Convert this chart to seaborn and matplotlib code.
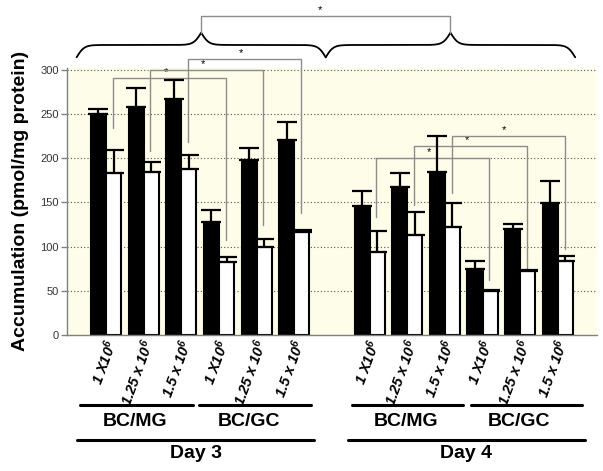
import numpy as np
import pandas as pd
import matplotlib
matplotlib.use("Agg")
import matplotlib.pyplot as plt
from matplotlib.transforms import ScaledTranslation
import seaborn as sns

# ── Data ───────────────────────────────────────────────────────────────────────
dose_labels = ["1 X10$^6$", "1.25 x 10$^6$", "1.5 x 10$^6$"]
co_cultures = ["BC/MG", "BC/GC", "BC/MG", "BC/GC"]
days = ["Day 3", "Day 4"]

day3_black = [250, 258, 268, 128, 198, 221]
day3_black_err = [6, 22, 21, 14, 14, 20]
day3_white = [184, 185, 188, 82, 99, 116]
day3_white_err = [26, 11, 16, 6, 10, 3]

day4_black = [146, 168, 185, 74, 120, 149]
day4_black_err = [17, 16, 40, 9, 6, 25]
day4_white = [94, 113, 122, 50, 72, 84]
day4_white_err = [24, 26, 27, 1, 1, 5]

# significance brackets between white bars (bar index -> bar index)
sig_pairs = [(0, 3), (1, 4), (2, 5), (6, 9), (7, 10), (8, 11)]

# ── Layout (not data) ──────────────────────────────────────────────────────────
positions = np.array([0, 1, 2, 3, 4, 5, 7, 8, 9, 10, 11, 12])
sig_tops = [291, 301, 313, 201, 214, 226]
sig_left_ends = [235, 208, 219, 134, 147, 161]
sig_right_ends = [107, 124, 138, 62, 73, 97]
group_spans = [(-0.68, 2.30), (2.48, 5.44), (6.53, 9.48), (9.69, 12.64)]
group_text_x = [0.78, 3.80, 7.97, 10.97]
day_spans = [(-0.76, 5.52), (6.43, 12.71)]
brace_spans = [(-0.78, 5.835), (5.835, 12.46)]

sns.set_style("white")
plt.rcParams["font.family"] = ["Liberation Sans", "DejaVu Sans"]
plt.rcParams["text.color"] = "black"
plt.rcParams["axes.labelcolor"] = "black"
plt.rcParams["mathtext.fontset"] = "custom"
plt.rcParams["mathtext.rm"] = "Liberation Sans:italic:bold"
plt.rcParams["mathtext.it"] = "Liberation Sans:italic:bold"
plt.rcParams["mathtext.bf"] = "Liberation Sans:italic:bold"

black_vals = day3_black + day4_black
white_vals = day3_white + day4_white
black_err = day3_black_err + day4_black_err
white_err = day3_white_err + day4_white_err

df = pd.DataFrame({
    "pos": np.concatenate([positions, positions]),
    "value": black_vals + white_vals,
    "cond": ["black"] * 12 + ["white"] * 12,
})

fig = plt.figure(figsize=(6.03, 4.71), dpi=100)
ax = fig.add_axes([0.1111, 0.2898, 0.879, 0.5652])
ax.set_facecolor("#fefdea")

sns.barplot(data=df, x="pos", y="value", hue="cond", native_scale=True,
            palette={"black": "black", "white": "white"}, edgecolor="black",
            linewidth=1.5, errorbar=None, width=0.8, saturation=1,
            legend=False, ax=ax)

# upper-only error bars
zeros = np.zeros(12)
ax.errorbar(positions - 0.2, black_vals, yerr=[zeros, black_err], fmt="none",
            ecolor="black", elinewidth=1.6, capsize=7, capthick=1.6, zorder=4)
ax.errorbar(positions + 0.2, white_vals, yerr=[zeros, white_err], fmt="none",
            ecolor="black", elinewidth=1.6, capsize=7, capthick=1.6, zorder=4)

ax.set_xlim(-1.036, 13.04)
ax.set_ylim(0, 302.5)
ax.set_yticks(range(0, 301, 50))
ax.yaxis.grid(True, linestyle=(0, (1, 2)), color="#555555", linewidth=0.8)
ax.xaxis.grid(False)
ax.set_axisbelow(True)
for side in ["top", "right"]:
    ax.spines[side].set_visible(False)
for side in ["left", "bottom"]:
    ax.spines[side].set_color("#808080")
    ax.spines[side].set_linewidth(1.0)
ax.tick_params(axis="y", length=4, width=1, color="#808080", labelsize=8,
               labelcolor="#333333", pad=2, left=True)

ax.set_xticks(positions)
ax.set_xticklabels(dose_labels * 4, rotation=70, ha="right", va="center",
                   rotation_mode="anchor", fontsize=10.5, fontweight="bold",
                   fontstyle="italic", color="black")
ax.tick_params(axis="x", length=0, pad=4)
shift = ScaledTranslation(4 / 72, 0, fig.dpi_scale_trans)
for lbl in ax.get_xticklabels():
    lbl.set_transform(lbl.get_transform() + shift)

ax.set_xlabel("")
ax.set_ylabel("Accumulation (pmol/mg protein)", fontsize=14,
              fontweight="bold")
ax.yaxis.set_label_coords(-0.072, 0.5)

# significance brackets
white_x = positions + 0.18
for (i, j), top, le, re in zip(sig_pairs, sig_tops, sig_left_ends, sig_right_ends):
    ax.plot([white_x[i], white_x[i], white_x[j], white_x[j]], [le, top, top, re],
            color="#8c8c8c", lw=1.0, clip_on=False, zorder=3)
    ax.text((white_x[i] + white_x[j]) / 2 - 0.1, top + 1, "*", ha="center",
            va="bottom", fontsize=8, clip_on=False)

# curly braces over each day
def curly_brace(x0, x1, y_end, y_tip, beta=10):
    xm = (x0 + x1) / 2
    xs = np.linspace(x0, xm, 300)
    s = 1 / (1 + np.exp(-beta * (xs - x0))) + 1 / (1 + np.exp(-beta * (xs - xm)))
    ys = y_end + (s - 0.5) * (y_tip - y_end)
    xx = np.concatenate([xs, (2 * xm - xs)[::-1]])
    yy = np.concatenate([ys, ys[::-1]])
    ax.plot(xx, yy, color="black", lw=1.3, clip_on=False)
    return xm

tips = [curly_brace(a, b, 315, 343) for a, b in brace_spans]
ax.plot([tips[0], tips[0], tips[1], tips[1]], [343, 362, 362, 343],
        color="#8c8c8c", lw=1.0, clip_on=False)
ax.text((tips[0] + tips[1]) / 2 - 0.15, 363, "*", ha="center", va="bottom",
        fontsize=8, clip_on=False)

# group annotations under the axis
for (a, b), tx, name in zip(group_spans, group_text_x, co_cultures):
    ax.plot([a, b], [-80.5, -80.5], color="black", lw=2.2, clip_on=False)
    ax.text(tx, -89, name, ha="center", va="top", fontsize=14,
            fontweight="bold", color="black")
for (a, b), name in zip(day_spans, days):
    ax.plot([a, b], [-119.5, -119.5], color="black", lw=2.2, clip_on=False)
    ax.text((a + b) / 2, -125, name, ha="center", va="top", fontsize=14,
            fontweight="bold", color="black")

fig.savefig("out.png", dpi=100)
plt.close(fig)
